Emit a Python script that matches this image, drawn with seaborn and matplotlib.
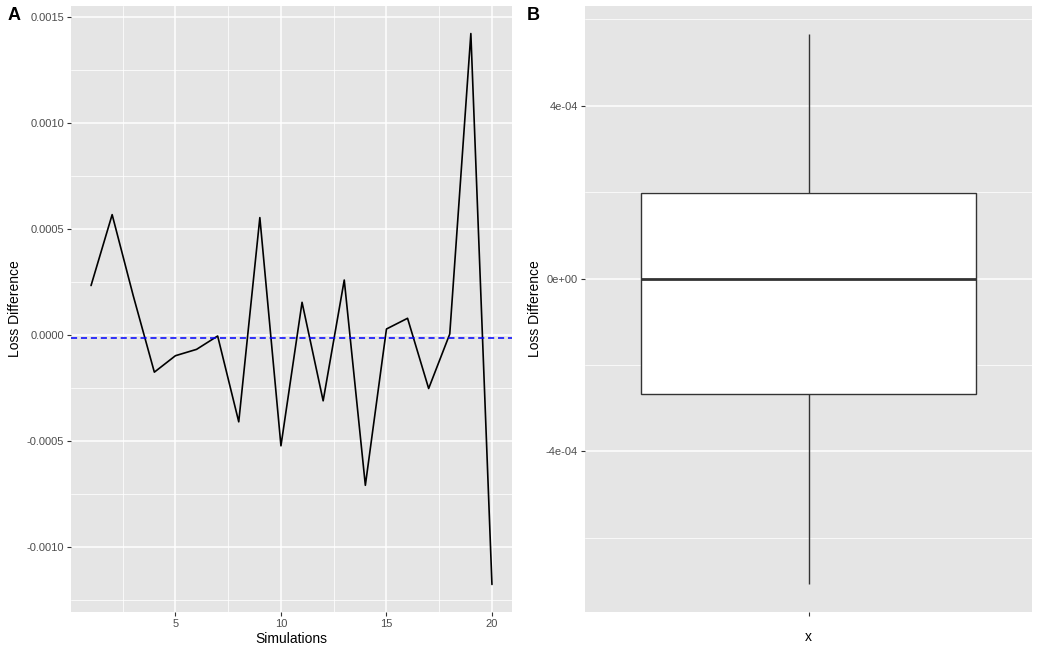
import numpy as np
import pandas as pd
import seaborn as sns
import matplotlib.pyplot as plt
from matplotlib.ticker import FixedLocator, FuncFormatter

# loss difference per simulation
simulations = list(range(1, 21))
loss_diff = [0.000233, 0.000567, 0.000185, -0.000175, -0.0000975,
             -0.0000676, -0.0000047, -0.000409, 0.000553, -0.000522,
             0.000154, -0.000310, 0.000259, -0.000708, 0.0000283,
             0.0000788, -0.000252, 0.0000047, 0.00142, -0.001175]

df = pd.DataFrame({'Simulations': simulations, 'Loss_Difference': loss_diff, 'grp': 'x'})

sns.set_theme(style='darkgrid')
plt.rcParams['font.family'] = ['Liberation Sans', 'DejaVu Sans']

W, H = 1039, 655
fig = plt.figure(figsize=(W / 100, H / 100), dpi=100)


def px_axes(x0, y0, x1, y1):
    return fig.add_axes([x0 / W, 1 - y1 / H, (x1 - x0) / W, (y1 - y0) / H])


def gg_style(ax):
    ax.set_facecolor('#E5E5E5')
    for s in ax.spines.values():
        s.set_visible(False)
    ax.grid(which='major', color='white', linewidth=1.1)
    ax.grid(which='minor', color='white', linewidth=0.55)
    ax.tick_params(which='major', bottom=True, left=True, length=3, width=0.8,
                   color='#333333', labelsize=8, labelcolor='#4D4D4D', pad=2)
    ax.tick_params(which='minor', bottom=False, left=False, length=0)
    ax.set_axisbelow(True)


# Panel A: line plot of the loss difference
ax1 = px_axes(71, 6, 512, 612)
gg_style(ax1)
sns.lineplot(data=df, x='Simulations', y='Loss_Difference', color='black',
             linewidth=1.2, ax=ax1)
ax1.axhline(np.mean(loss_diff), color='#0000FF', linestyle=(0, (4, 2.5)), linewidth=1.1)
lo, hi = min(loss_diff), max(loss_diff)
pad = (hi - lo) * 0.05
ax1.set_ylim(lo - pad, hi + pad)
ax1.set_xlim(1 - 0.95, 20 + 0.95)
ax1.xaxis.set_major_locator(FixedLocator([5, 10, 15, 20]))
ax1.xaxis.set_minor_locator(FixedLocator([2.5, 7.5, 12.5, 17.5]))
ax1.yaxis.set_major_locator(FixedLocator([-0.001, -0.0005, 0, 0.0005, 0.001, 0.0015]))
ax1.yaxis.set_minor_locator(FixedLocator([-0.00125, -0.00075, -0.00025, 0.00025, 0.00075, 0.00125]))
ax1.yaxis.set_major_formatter(FuncFormatter(lambda v, p: f'{v:.4f}'.replace('-0.0000', '0.0000')))
ax1.set_xlabel('Simulations', fontsize=10, labelpad=2, color='black')
ax1.set_ylabel('Loss Difference', fontsize=10, labelpad=3, color='black')

# Panel B: boxplot of the same values, outliers hidden, zoomed to the whiskers
ax2 = px_axes(585, 6, 1032, 612)
gg_style(ax2)
sns.boxplot(data=df, x='grp', y='Loss_Difference', width=0.9, whis=1.5,
            showfliers=False, showcaps=False, color='white', linecolor='#333333',
            linewidth=1.0, medianprops={'linewidth': 2.0, 'color': '#333333'},
            ax=ax2)
q1, q3 = np.percentile(loss_diff, [25, 75])
iqr = q3 - q1
arr = np.array(loss_diff)
w_lo = arr[arr >= q1 - 1.5 * iqr].min()
w_hi = arr[arr <= q3 + 1.5 * iqr].max()
pad2 = (w_hi - w_lo) * 0.05
ax2.set_ylim(w_lo - pad2, w_hi + pad2)
ax2.set_xlim(-0.6, 0.6)
ax2.yaxis.set_major_locator(FixedLocator([-0.0004, 0, 0.0004]))
ax2.yaxis.set_minor_locator(FixedLocator([-0.0006, -0.0002, 0.0002, 0.0006]))
ax2.yaxis.set_major_formatter(FuncFormatter(
    lambda v, p: {-0.0004: '-4e-04', 0: '0e+00', 0.0004: '4e-04'}.get(round(v, 6), '')))
ax2.set_xticks([0])
ax2.set_xticklabels([''])
ax2.set_xlabel('x', fontsize=10, labelpad=8, color='black')
ax2.set_ylabel('Loss Difference', fontsize=10, labelpad=3, color='black')

fig.text(8 / W, 1 - 16 / H, 'A', fontsize=13, fontweight='bold', color='black',
         va='center', ha='left')
fig.text(527 / W, 1 - 16 / H, 'B', fontsize=13, fontweight='bold', color='black',
         va='center', ha='left')

fig.savefig('out.png', dpi=100, facecolor='white')
plt.close(fig)
